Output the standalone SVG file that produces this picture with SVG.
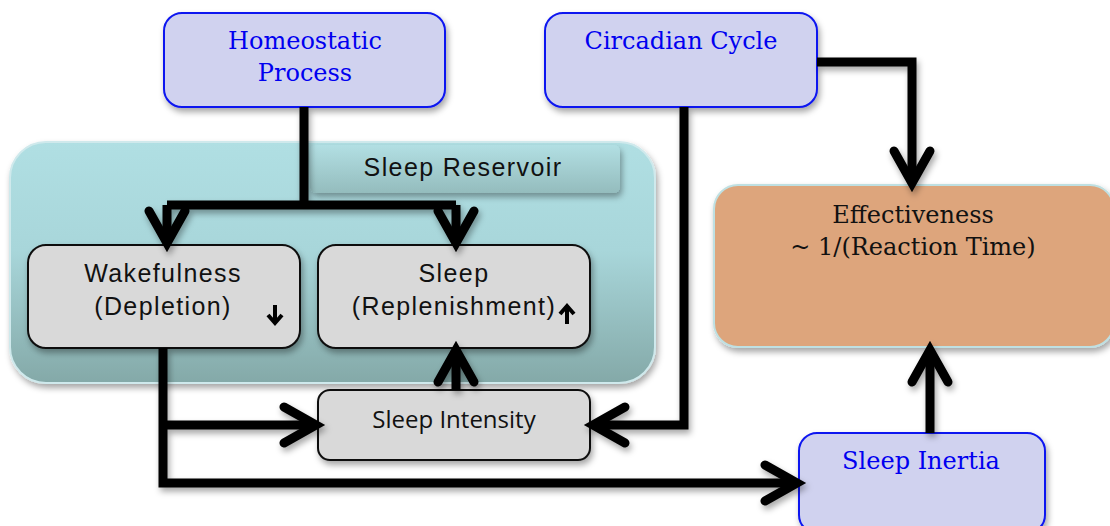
<svg xmlns="http://www.w3.org/2000/svg" width="1110" height="526" viewBox="0 0 1110 526">
<defs>
<filter id="sh" x="-10%" y="-10%" width="130%" height="140%">
<feDropShadow dx="2" dy="4" stdDeviation="3" flood-color="#000" flood-opacity="0.35"/>
</filter>
<linearGradient id="res" x1="0" y1="0" x2="0" y2="1">
<stop offset="0" stop-color="#b0dfe3"/>
<stop offset="0.45" stop-color="#a8d6da"/>
<stop offset="1" stop-color="#84a9a8"/>
</linearGradient>
<linearGradient id="tab" x1="0" y1="0" x2="0" y2="1">
<stop offset="0" stop-color="#b2dfe3"/>
<stop offset="1" stop-color="#94bcbd"/>
</linearGradient>
<style>
.blue{fill:#d0d2ef;stroke:#0a14f0;stroke-width:2}
.grey{fill:#d9d9d9;stroke:#111;stroke-width:2}
.serif{font-family:"DejaVu Serif","Liberation Serif",serif;font-size:24px;text-anchor:middle}
.bt{fill:#0000f0}
.sans{font-family:"Liberation Sans",Arial,sans-serif;font-size:25px;letter-spacing:1.4px;fill:#111;text-anchor:middle}
.cal{font-family:"Open Sans",Lato,sans-serif;font-size:24px;fill:#111;text-anchor:middle}
.ln{fill:none;stroke:#000;stroke-width:9;stroke-linejoin:miter}
.ah{fill:none;stroke:#000;stroke-width:9;stroke-linecap:round;stroke-linejoin:miter}
.sm{fill:none;stroke:#000;stroke-width:4;stroke-linejoin:miter}
</style>
</defs>

<g id="sleep-reservoir">
<rect x="10" y="142" width="645" height="241" rx="36" fill="url(#res)" stroke="#cfe9ec" stroke-width="2" filter="url(#sh)"/>
<rect x="310" y="145" width="310" height="48" rx="6" fill="url(#tab)" filter="url(#sh)"/>
<text x="463" y="176" class="sans">Sleep Reservoir</text>
</g>

<g id="homeostatic-process">
<rect x="164" y="13" width="281" height="94" rx="18" class="blue" filter="url(#sh)"/>
<text x="305" y="49" class="serif bt">Homeostatic</text>
<text x="305" y="81" class="serif bt">Process</text>
</g>

<g id="circadian-cycle">
<rect x="545" y="13" width="272" height="94" rx="18" class="blue" filter="url(#sh)"/>
<text x="681" y="49" class="serif bt">Circadian Cycle</text>
</g>

<g id="wakefulness">
<rect x="28" y="245" width="272" height="103" rx="18" class="grey" filter="url(#sh)"/>
<text x="163" y="282" class="sans">Wakefulness</text>
<text x="163" y="315" class="sans">(Depletion)</text>
<path class="sm" d="M275 305 V323 M268 315 L275 323 L282 315"/>
</g>

<g id="sleep">
<rect x="318" y="245" width="272" height="103" rx="18" class="grey" filter="url(#sh)"/>
<text x="454" y="282" class="sans">Sleep</text>
<text x="454" y="315" class="sans">(Replenishment)</text>
<path class="sm" d="M567 324 V306 M560 314 L567 306 L574 314"/>
</g>

<g id="sleep-intensity">
<rect x="318" y="390" width="272" height="70" rx="12" class="grey" filter="url(#sh)"/>
<text x="454" y="428" class="cal">Sleep Intensity</text>
</g>

<g id="effectiveness">
<rect x="714" y="185" width="400" height="162" rx="24" fill="#dda57c" stroke="#bfe0e2" stroke-width="2" filter="url(#sh)"/>
<text x="913" y="223" class="serif" fill="#111">Effectiveness</text>
<text x="913" y="255" class="serif" fill="#111">~ 1/(Reaction Time)</text>
</g>

<g id="sleep-inertia">
<rect x="799" y="433" width="246" height="100" rx="18" class="blue" filter="url(#sh)"/>
<text x="921" y="469" class="serif bt">Sleep Inertia</text>
</g>

<g id="connectors" filter="url(#sh)">
<path class="ln" d="M304 107 V205 M167 205 H456 M167 205 V243 M456 205 V243"/>
<path class="ah" d="M149 211 L167 243 L185 211 M438 211 L456 243 L474 211"/>
<path class="ln" d="M817 62 H912 V183"/>
<path class="ah" d="M894 151 L912 183 L930 151"/>
<path class="ln" d="M684 107 V425 H593"/>
<path class="ah" d="M625 407 L593 425 L625 443"/>
<path class="ln" d="M163 348 V483 H797 M163 425 H316"/>
<path class="ah" d="M284 407 L316 425 L284 443 M765 465 L797 483 L765 501"/>
<path class="ln" d="M456 390 V350"/>
<path class="ah" d="M438 382 L456 350 L474 382"/>
<path class="ln" d="M930 433 V350"/>
<path class="ah" d="M912 382 L930 350 L948 382"/>
</g>
</svg>
